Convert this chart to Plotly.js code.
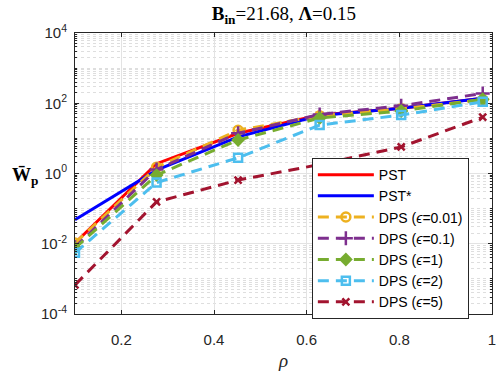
<!DOCTYPE html>
<html>
<head>
<meta charset="utf-8">
<script src="https://cdn.plot.ly/plotly-3.0.1.min.js"></script>
<style>
body { margin: 0; padding: 0; background: #fff; }
#graphDiv { width: 498px; height: 374px; }
</style>
</head>
<body>
<div id="graphDiv"></div>
<script>
// datos
var rho = [0.1, 0.276, 0.452, 0.628, 0.804, 0.98];
var pst = [0.0105, 1.9, 14, 46, 72, 140];
var pstStar = [0.048, 1.25, 11, 45, 72, 138];
var dps001 = [0.0105, 1.5, 17, 44, 70, 125];
var dps01 = [0.008, 1.3, 14, 48, 85, 190];
var dps1 = [0.0075, 0.9, 9, 38, 60, 130];
var dps2 = [0.0055, 0.55, 2.8, 24, 46, 110];
var dps5 = [0.00067, 0.155, 0.65, 1.8, 5.7, 40];

var yTicks = [1e-4, 1e-2, 1, 1e2, 1e4];
var yTickText = ['10<sup>-4</sup>', '10<sup>-2</sup>', '10<sup>0</sup>', '10<sup>2</sup>', '10<sup>4</sup>'];

// grid menor (cada decada, 1..9)
var minorVals = [];
for (let d = -4; d < 4; d++) {
    for (let k = 1; k < 10; k++) {
        if (k == 1 && d % 2 == 0) continue;
        minorVals.push(k * Math.pow(10, d));
    }
}

var dash = '11px,7px';
function dps(y, name, color, symbol, size) {
    return {
        x: rho, y: y, name: name,
        mode: 'lines+markers',
        line: { color: color, width: 3, dash: dash },
        marker: { symbol: symbol, size: size, color: color, line: { color: color, width: 2.5 } }
    };
}

var data = [
    { x: rho, y: pst, name: 'PST', mode: 'lines', line: { color: '#ff0000', width: 3 } },
    { x: rho, y: pstStar, name: 'PST*', mode: 'lines', line: { color: '#0000ff', width: 3 } },
    dps(dps001, 'DPS (<i>ϵ</i>=0.01)', '#EDB120', 'circle-open', 9),
    dps(dps01, 'DPS (<i>ϵ</i>=0.1)', '#7E2F8E', 'cross-thin-open', 10),
    dps(dps1, 'DPS (<i>ϵ</i>=1)', '#77AC30', 'diamond', 8),
    dps(dps2, 'DPS (<i>ϵ</i>=2)', '#4DBEEE', 'square-open', 8),
    dps(dps5, 'DPS (<i>ϵ</i>=5)', '#A2142F', 'x-thin-open', 7)
];

var layout = {
    width: 498, height: 374,
    margin: { l: 75, r: 6, t: 33, b: 60 },
    paper_bgcolor: '#fff', plot_bgcolor: '#fff',
    font: { family: 'Liberation Sans, Arial, sans-serif', size: 15, color: '#262626' },
    title: {
        text: '<b>B<sub>in</sub></b>=21.68, <b>Λ</b>=0.15',
        font: { family: 'Liberation Serif, Times New Roman, serif', size: 19, color: '#000' },
        x: 0.57, xanchor: 'center', y: 0.983, yanchor: 'top'
    },
    xaxis: {
        range: [0.1, 1],
        tickvals: [0.2, 0.4, 0.6, 0.8, 1],
        ticktext: ['0.2', '0.4', '0.6', '0.8', '1'],
        ticks: 'inside', ticklen: 4, tickcolor: '#262626', ticklabelstandoff: 12,
        showline: true, linecolor: '#262626', linewidth: 1, mirror: 'ticks',
        showgrid: true, gridcolor: '#e3e3e3', gridwidth: 1,
        zeroline: false,
        title: { text: '<i>ρ</i>', font: { family: 'Liberation Serif, serif', size: 19 }, standoff: 6 }
    },
    yaxis: {
        type: 'log', range: [-4, 4],
        tickvals: yTicks, ticktext: yTickText,
        ticks: 'inside', ticklen: 4, tickcolor: '#262626', ticklabelstandoff: 4,
        showline: true, linecolor: '#262626', linewidth: 1, mirror: 'ticks',
        showgrid: true, gridcolor: '#e3e3e3', gridwidth: 1,
        zeroline: false,
        minor: {
            tickvals: minorVals, ticks: 'inside', ticklen: 2, tickcolor: '#262626',
            showgrid: true, gridcolor: '#dedede', gridwidth: 1, griddash: 'dot'
        }
    },
    legend: {
        x: 0.568, xanchor: 'left', y: 0.555, yanchor: 'top',
        bgcolor: '#fff', bordercolor: '#262626', borderwidth: 1,
        font: { size: 14, color: '#000' },
        itemwidth: 56, tracegroupgap: 0
    },
    annotations: [{
        text: '<b>W̄<sub>p</sub></b>',
        xref: 'paper', yref: 'paper', x: -0.085, y: 0.49,
        xanchor: 'right', yanchor: 'middle', showarrow: false,
        font: { family: 'Liberation Serif, serif', size: 19, color: '#000' }
    }]
};

Plotly.newPlot('graphDiv', data, layout, { displayModeBar: false });
</script>
</body>
</html>
